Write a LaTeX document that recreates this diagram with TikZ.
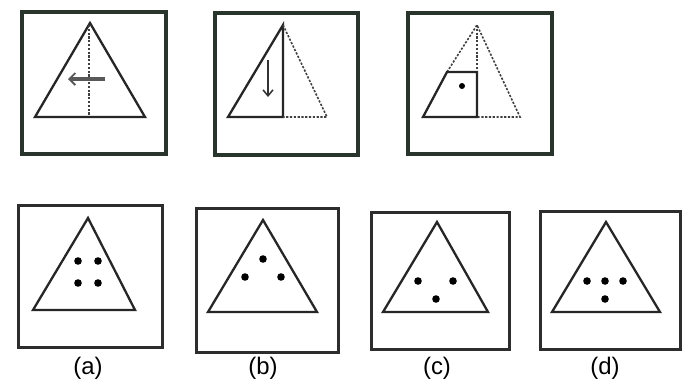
\documentclass[tikz,border=0pt]{standalone}
\usepackage{fontspec}
\setmainfont{Liberation Sans}
\usetikzlibrary{arrows.meta}
\definecolor{frameline}{RGB}{40,52,44}
\definecolor{boxline}{RGB}{45,45,45}

\tikzset{
  qbox/.style={draw=frameline, line width=4bp},
  obox/.style={draw=boxline, line width=3bp},
  edge/.style={draw=black!85, line width=2.3bp, line join=miter},
  fold/.style={draw=black!75, line width=1.6bp, dash pattern=on 2.2bp off 1.6bp},
  dot/.style={fill=black, draw=none},
  tag/.style={font=\fontsize{24}{28}\selectfont, inner sep=0pt}
}

\begin{document}
\begin{tikzpicture}[x=1bp, y=-1bp]
\useasboundingbox (0,0) rectangle (698,383);
\fill[white] (0,0) rectangle (698,383);

% question figures
\draw[qbox] (22,12) rectangle (166,154);
\draw[edge] (90,23) -- (35,117) -- (145,117) -- cycle;
\draw[fold] (89,25) -- (89,116);
\draw[line width=3.6bp, gray!70!black, -{Straight Barb[length=6bp, width=12bp, line width=1.8bp]}] (105,79) -- (68,79);

\draw[qbox] (215,13) rectangle (358,155);
\draw[edge] (283,25) -- (228,117) -- (283,117) -- cycle;
\draw[fold] (283,25) -- (327,117) -- (283,117);
\draw[line width=1.8bp, black!80, -{Straight Barb[length=6bp, width=10bp, line width=1.5bp]}] (268,60) -- (268,97);

\draw[qbox] (408,13) rectangle (552,154);
\draw[fold] (447,72) -- (477,25) -- (520,117) -- (477,117);
\draw[fold] (477,25) -- (477,72);
\draw[edge] (477,72) -- (447,72) -- (423,117) -- (477,117) -- cycle;
\fill[dot] (462,86) circle (3bp);

% answer figures
\draw[obox] (18,205) rectangle (162,347);
\draw[edge] (88,218) -- (33,310) -- (135,310) -- cycle;
\foreach \px/\py in {78/261, 98/261, 78/283, 98/283}
  \fill[dot] (\px,\py) circle (3.8bp);
\node[tag] (la) at (88,368) {(a)};

\draw[obox] (196,208) rectangle (338,352);
\draw[edge] (263,220) -- (208,312) -- (317,312) -- cycle;
\foreach \px/\py in {263/259, 245/277, 281/277}
  \fill[dot] (\px,\py) circle (3.8bp);
\node[tag] (lb) at (263,368) {(b)};

\draw[obox] (371,212) rectangle (509,349);
\draw[edge] (437,222) -- (383,312) -- (488,312) -- cycle;
\foreach \px/\py in {418/281, 453/281, 436/299}
  \fill[dot] (\px,\py) circle (3.8bp);
\node[tag] (lc) at (437,368) {(c)};

\draw[obox] (540,211) rectangle (680,349);
\draw[edge] (606,222) -- (552,312) -- (660,312) -- cycle;
\foreach \px/\py in {587/281, 605/281, 623/281, 605/299}
  \fill[dot] (\px,\py) circle (3.8bp);
\node[tag] (ld) at (605,368) {(d)};
\end{tikzpicture}
\end{document}
